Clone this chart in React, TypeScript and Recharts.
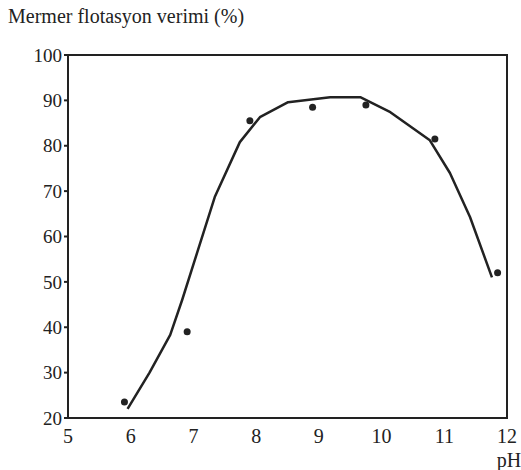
import { ComposedChart, Line, Scatter, XAxis, YAxis, ReferenceArea } from "recharts"

// measured points (dots)
const phPoints = [5.9, 6.9, 7.9, 8.9, 9.75, 10.85, 11.85]
const recoveryPoints = [23.5, 39, 85.5, 88.5, 89, 81.5, 52]

// fitted curve
const curvePh = [5.95, 6.3, 6.63, 6.82, 7.34, 7.74, 8.06, 8.51, 9.18, 9.66, 10.14, 10.77, 11.09, 11.41, 11.76]
const curveRecovery = [22, 30, 38.3, 46, 68.7, 80.8, 86.3, 89.6, 90.7, 90.7, 87.4, 81.2, 74, 64.3, 51]

const xTicks = [5, 6, 7, 8, 9, 10, 11, 12]
const yTicks = [20, 30, 40, 50, 60, 70, 80, 90, 100]

const dots = phPoints.map((x, i) => ({ x, y: recoveryPoints[i] }))
const curve = curvePh.map((x, i) => ({ x, y: curveRecovery[i] }))

const ink = "#222"
const font = "'Liberation Serif', 'Times New Roman', Tinos, 'DejaVu Serif', serif"

const PhLabel = (props: any) => {
  const { viewBox } = props
  return (
    <text x={viewBox.x + viewBox.width + 2} y={viewBox.y + 49} textAnchor="middle" fontFamily={font} fontSize={20} fill={ink}>
      pH
    </text>
  )
}

export default function App() {
  return (
    <div style={{ position: "absolute", left: 0, top: 0, width: 521, height: 470, background: "#fff" }}>
      <div style={{ position: "absolute", left: 8, top: 5, fontFamily: font, fontSize: 20, color: ink, whiteSpace: "nowrap" }}>
        Mermer flotasyon verimi (%)
      </div>
      <ComposedChart width={521} height={470} margin={{ top: 55, right: 14, bottom: 5, left: 18 }}>
        <XAxis
          type="number"
          dataKey="x"
          domain={[5, 12]}
          ticks={xTicks}
          interval={0}
          tickLine={false}
          tickMargin={5}
          height={47}
          stroke={ink}
          strokeWidth={2}
          tick={{ fill: ink, fontSize: 20, fontFamily: font }}
          label={<PhLabel />}
          allowDataOverflow
        />
        <YAxis
          type="number"
          dataKey="y"
          domain={[20, 100]}
          ticks={yTicks}
          interval={0}
          tickSize={4}
          tickMargin={2}
          width={50}
          stroke={ink}
          strokeWidth={2}
          tick={{ fill: ink, fontSize: 19, fontFamily: font }}
          allowDataOverflow
        />
        <ReferenceArea x1={5} x2={12} y1={20} y2={100} fill="none" stroke={ink} strokeWidth={2} fillOpacity={0} />
        <Line
          data={curve}
          dataKey="y"
          type="linear"
          stroke={ink}
          strokeWidth={2.5}
          strokeLinejoin="round"
          dot={false}
          activeDot={false}
          isAnimationActive={false}
        />
        <Scatter data={dots} dataKey="y" fill={ink} shape={(p: any) => <circle cx={p.cx} cy={p.cy} r={3.5} fill={ink} />} isAnimationActive={false} />
      </ComposedChart>
    </div>
  )
}
